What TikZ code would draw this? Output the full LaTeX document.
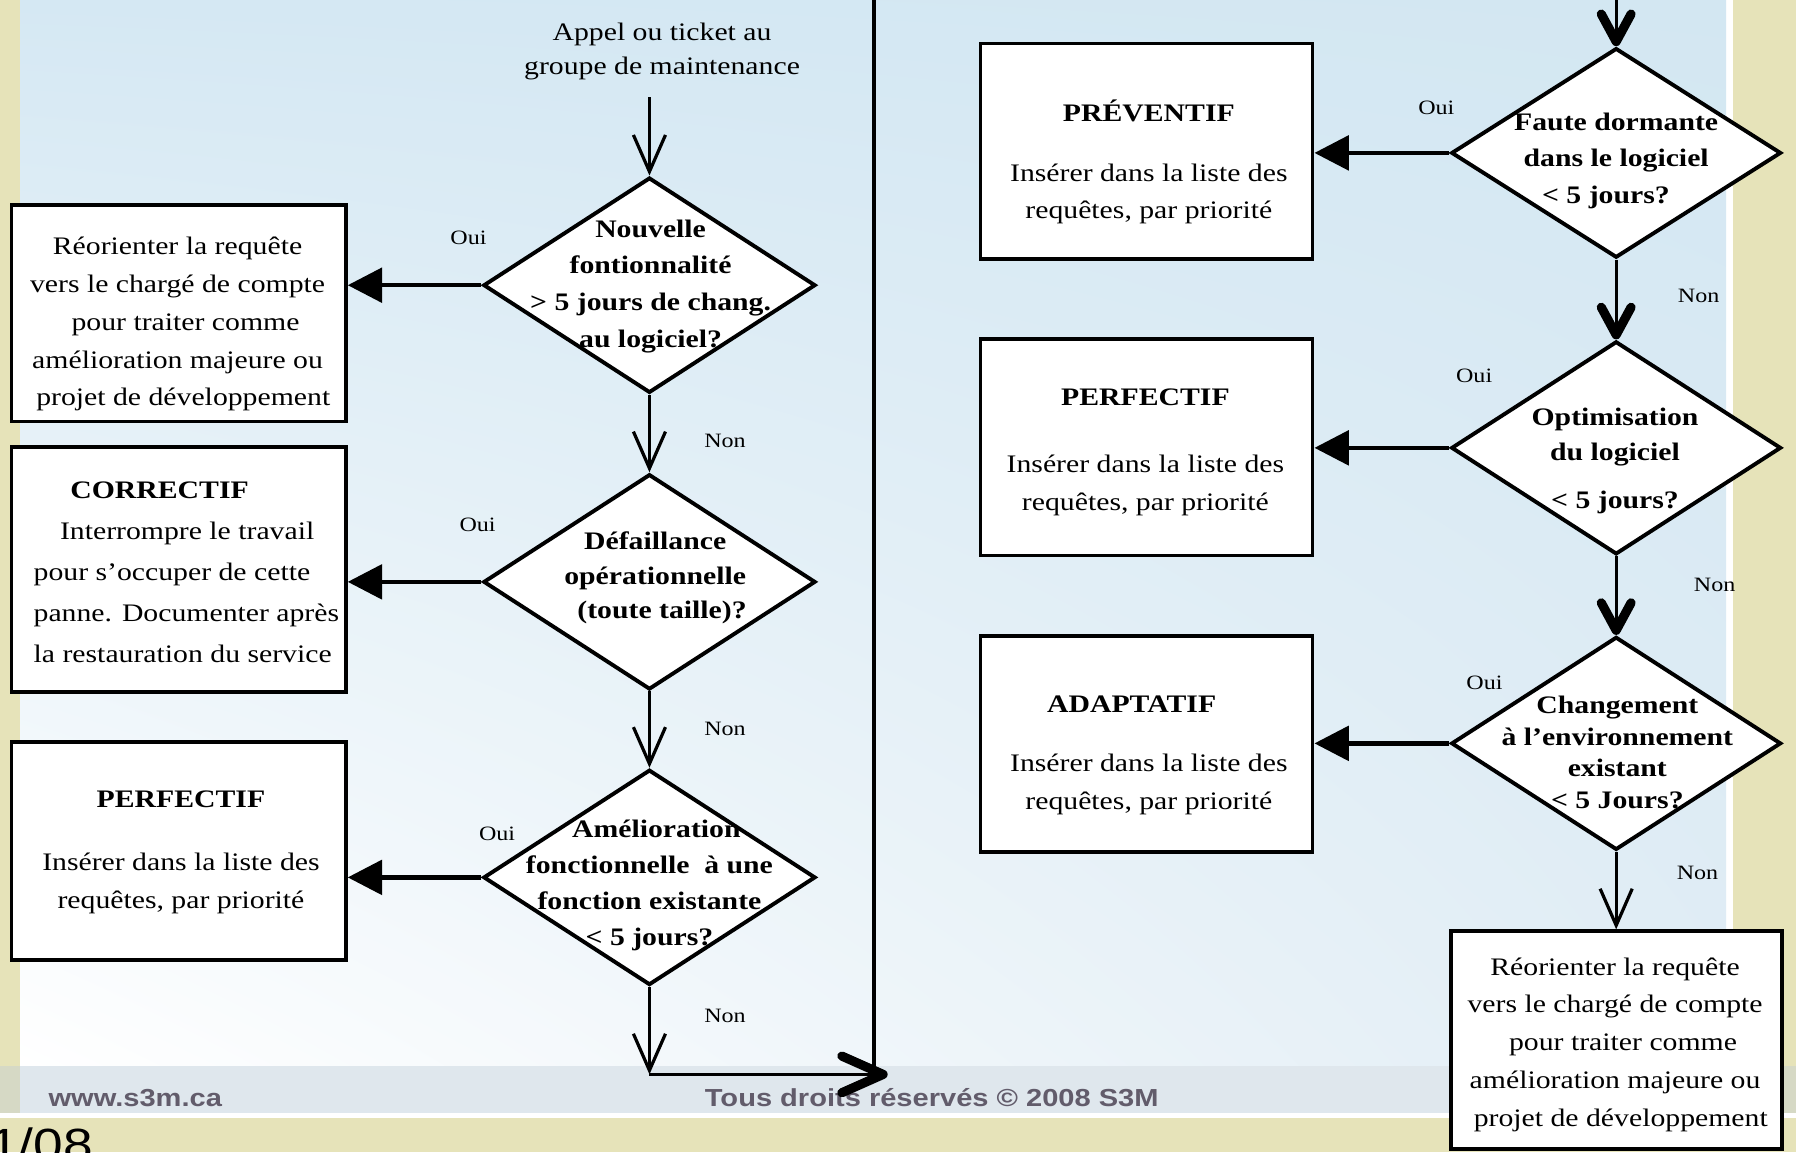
\documentclass[tikz,border=0pt]{standalone}
\usepackage{fontspec}
\setmainfont{Liberation Serif}[FakeStretch=1.18]
\newfontfamily\footfont{Liberation Sans}[FakeStretch=1.18]
\usetikzlibrary{arrows.meta,shapes.geometric,shadings}

\definecolor{beige}{HTML}{E6E3B9}
\definecolor{skyUL}{HTML}{D5E8F3}
\definecolor{skyUR}{HTML}{D3E7F2}
\definecolor{skyLR}{HTML}{E1EDF5}
\definecolor{band}{HTML}{DFE7ED}
\definecolor{bandside}{HTML}{D6D9C5}
\definecolor{foottext}{HTML}{625C6B}

\tikzset{
  box/.style={rectangle, draw=black, line width=1.6pt, fill=white, inner sep=0pt},
  dec/.style={diamond, draw=black, line width=1.7pt, fill=white, inner sep=0pt},
  txt/.style={align=center, inner sep=0pt, font=\fontsize{11pt}{16.5pt}\selectfont},
  btxt/.style={align=center, inner sep=0pt, font=\fontsize{11pt}{#1}\selectfont\bfseries},
  lbl/.style={inner sep=0pt, font=\fontsize{8.9pt}{10pt}\selectfont},
  foot/.style={inner sep=0pt, anchor=base west, text=foottext,
    font=\footfont\fontsize{10.75pt}{12pt}\selectfont\bfseries},
  thinarrow/.style={line width=1.4pt, -{Straight Barb[length=16pt,width=14pt]}},
  heavyarrow/.style={line width=1.3pt,
    -{Straight Barb[length=12pt,width=13pt,line width=4pt,round]}},
  bigarrow/.style={line width=1.4pt,
    -{Straight Barb[length=18pt,width=16pt,line width=4pt,round]}},
  ouiarrow/.style={line width=2pt, -{Triangle[length=15pt,width=15pt]}},
}

\begin{document}
\begin{tikzpicture}[x=0.5pt,y=-0.5pt]
\useasboundingbox (0,0) rectangle (1568,1006);
\clip (0,0) rectangle (1568,1006);

% slide background
\fill[beige] (0,0) rectangle (1568,1006);
\fill[white] (17.5,0) rectangle (1513,972);
\shade[upper left=skyUL, upper right=skyUR, lower left=white, lower right=skyLR]
  (17.5,0) rectangle (1507,931);
\fill[bandside] (0,931) rectangle (17.5,972);
\fill[band] (17.5,931) rectangle (1513,972);
\fill[bandside] (1513,931) rectangle (1568,972);
\fill[white] (0,972) rectangle (1568,976);

% footer
\node[foot] (site) at (42,966) {www.s3m.ca};
\node[foot] (copy) at (615,966) {Tous droits réservés © 2008 S3M};
\node[inner sep=0pt, anchor=base west, font=\footfont\fontsize{19.7pt}{22pt}\selectfont]
  (pagenum) at (-10,1013) {1/08};

% left column
\node[txt, font=\fontsize{11pt}{15pt}\selectfont] (call) at (578,45)
  {Appel ou ticket au\\groupe de maintenance};

\node[dec, minimum width=145pt, minimum height=94pt] (d1) at (567,249) {};
\node[btxt=16pt] (d1t) at (568,250)
  {Nouvelle\\fontionnalité\\> 5 jours de chang.\\au logiciel?};

\node[dec, minimum width=145pt, minimum height=94pt] (d2) at (567,508) {};
\node[btxt=15.25pt] (d2t) at (572,504.5)
  {Défaillance\\opérationnelle\\\hspace*{6pt}(toute taille)?};

\node[dec, minimum width=145pt, minimum height=94pt] (d3) at (567,766) {};
\node[btxt=15.7pt] (d3t) at (567,773)
  {\hspace*{6pt}Amélioration\\fonctionnelle~ à une\\fonction existante\\< 5 jours?};

\node[box, minimum width=146pt, minimum height=94.5pt] (b1) at (156,273.5) {};
\node[txt] (b1t) at (155,283)
  {Réorienter la requête\\vers le chargé de compte\\\hspace*{7pt}pour traiter comme\\amélioration majeure ou\\\hspace*{5pt}projet de développement};

\node[box, minimum width=146pt, minimum height=107pt] (b2) at (156,497) {};
\node[txt, align=left, anchor=west, font=\fontsize{11pt}{17.9pt}\selectfont] (b2t) at (29,500)
  {\hspace*{16pt}\textbf{CORRECTIF}\\\hspace*{11.5pt}Interrompre le travail\\pour s’occuper de cette\\panne. Documenter après\\la restauration du service};

\node[box, minimum width=146pt, minimum height=95pt] (b3) at (156,743) {};
\node[txt] (b3t) at (158,744)
  {\textbf{PERFECTIF}\\[11pt]Insérer dans la liste des\\requêtes, par priorité};

% right column
\node[dec, minimum width=144pt, minimum height=91.5pt] (d4) at (1411,133.5) {};
\node[btxt=15.75pt] (d4t) at (1411,140.5)
  {Faute dormante\\dans le logiciel\\< 5 jours?\hspace*{9pt}};

\node[dec, minimum width=144pt, minimum height=93pt] (d5) at (1411,391) {};
\node[btxt=15.5pt] (d5t) at (1410,402.5)
  {Optimisation\\du logiciel\\[5.5pt]< 5 jours?};

\node[dec, minimum width=144pt, minimum height=93pt] (d6) at (1411,649) {};
\node[btxt=13.75pt] (d6t) at (1412,657)
  {Changement\\à l’environnement\\existant\\< 5 Jours?};

\node[box, minimum width=145pt, minimum height=94pt] (b4) at (1001,132) {};
\node[txt] (b4t) at (1003,141.5)
  {\textbf{PRÉVENTIF}\\[9.5pt]Insérer dans la liste des\\requêtes, par priorité};

\node[box, minimum width=145pt, minimum height=94.5pt] (b5) at (1001,390.5) {};
\node[txt] (b5t) at (1000,395)
  {\textbf{PERFECTIF}\\[12.5pt]Insérer dans la liste des\\requêtes, par priorité};

\node[box, minimum width=145pt, minimum height=94.5pt] (b6) at (1001,649.5) {};
\node[txt] (b6t) at (1003,659.5)
  {\textbf{ADAPTATIF}\hspace*{15pt}\\[9.5pt]Insérer dans la liste des\\requêtes, par priorité};

\node[box, minimum width=144.5pt, minimum height=95pt] (b7) at (1411.5,908) {};
\node[txt] (b7t) at (1410,912)
  {Réorienter la requête\\vers le chargé de compte\\\hspace*{7pt}pour traiter comme\\amélioration majeure ou\\\hspace*{5pt}projet de développement};

% branch labels
\node[lbl] (o1) at (409,208) {Oui};
\node[lbl] (o2) at (417,458) {Oui};
\node[lbl] (o3) at (434,728) {Oui};
\node[lbl] (o4) at (1254,94) {Oui};
\node[lbl] (o5) at (1287,328) {Oui};
\node[lbl] (o6) at (1296,596) {Oui};
\node[lbl] (n1) at (633,385) {Non};
\node[lbl] (n2) at (633,636) {Non};
\node[lbl] (n3) at (633,887) {Non};
\node[lbl] (n4) at (1483,258) {Non};
\node[lbl] (n5) at (1497,511) {Non};
\node[lbl] (n6) at (1482,762) {Non};

% connectors
\coordinate (start) at (567,85);
\coordinate (corner) at (567,938);
\coordinate (joinend) at (775,938);
\coordinate (jbottom) at (763,931);
\coordinate (jtop) at (763,0);
\coordinate (rtop) at (1411,0);

\draw[thinarrow] (start) -- (d1.north);
\draw[thinarrow] (d1.south) -- (d2.north);
\draw[thinarrow] (d2.south) -- (d3.north);
\draw[thinarrow] (d3.south) -- (corner);
\draw[bigarrow] (corner) -- (joinend);
\draw[line width=1.6pt] (jbottom) -- (jtop);
\draw[heavyarrow] (rtop) -- (d4.north);
\draw[heavyarrow] (d4.south) -- (d5.north);
\draw[heavyarrow] (d5.south) -- (d6.north);
\draw[thinarrow] (d6.south) -- (d6.south |- b7.north);

\draw[ouiarrow] (d1.west) -- (d1.west -| b1.east);
\draw[ouiarrow] (d2.west) -- (d2.west -| b2.east);
\draw[ouiarrow] (d3.west) -- (d3.west -| b3.east);
\draw[ouiarrow] (d4.west) -- (d4.west -| b4.east);
\draw[ouiarrow] (d5.west) -- (d5.west -| b5.east);
\draw[ouiarrow] (d6.west) -- (d6.west -| b6.east);
\end{tikzpicture}
\end{document}
